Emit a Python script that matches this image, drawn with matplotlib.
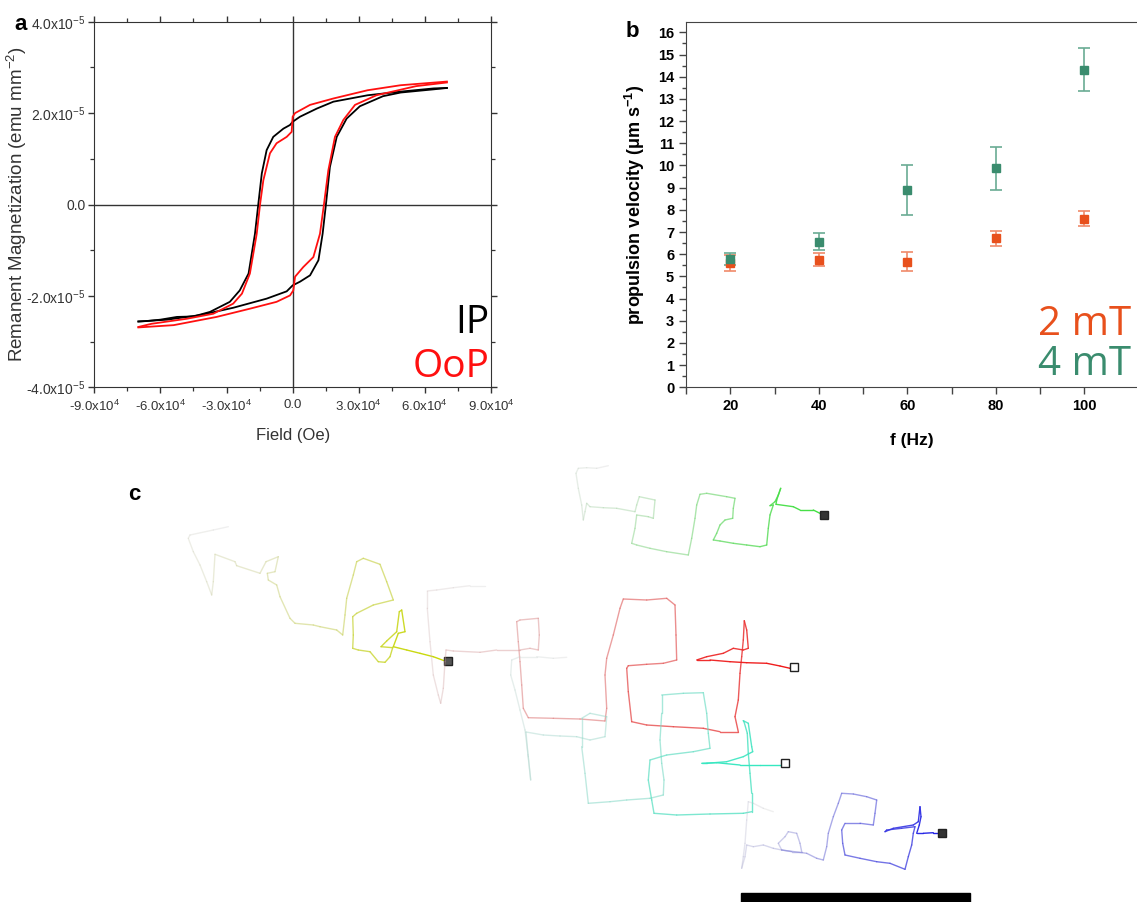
import numpy as np
import matplotlib
matplotlib.use("Agg")
import matplotlib.pyplot as plt
from matplotlib.collections import LineCollection
from matplotlib.patches import Rectangle
from matplotlib.ticker import MultipleLocator, FixedLocator, FuncFormatter
from matplotlib.colors import to_rgb

plt.rcParams['font.family'] = ['Liberation Sans', 'DejaVu Sans']
plt.rcParams['mathtext.fontset'] = 'custom'
plt.rcParams['mathtext.rm'] = 'Liberation Sans'
plt.rcParams['mathtext.bf'] = 'Liberation Sans:bold'

# ---------------- panel a: hysteresis loops (field in Oe, M in 1e-5 emu/mm2)
field_ip_dn = [70000, 64000, 49000, 34000, 18500, 11000, 3300, 0, -1200, -4200, -8800,
               -11800, -14000, -15600, -17100, -20000, -24000, -28500, -37500, -45000,
               -52500, -60000, -66000, -70000]
m_ip_dn = [2.55, 2.54, 2.47, 2.39, 2.25, 2.10, 1.92, 1.81, 1.74, 1.66, 1.48, 1.19, 0.68,
           0.0, -0.64, -1.51, -1.88, -2.13, -2.35, -2.45, -2.46, -2.52, -2.55, -2.56]
field_ip_up = [-70000, -57000, -42000, -27000, -11800, -2700, 0, 3300, 7900, 11700, 13600,
               15100, 16900, 20000, 24500, 30500, 41000, 49000, 64000, 70000]
m_ip_up = [-2.56, -2.52, -2.42, -2.26, -2.06, -1.90, -1.77, -1.69, -1.55, -1.22, -0.64,
           0.0, 0.82, 1.48, 1.88, 2.15, 2.37, 2.45, 2.52, 2.55]
field_oop_dn = [70000, 49000, 34000, 18500, 7900, 1100, 0, -450, -2700, -7300, -10300,
                -13300, -14800, -16300, -19400, -23000, -27000, -36000, -48000, -64000, -70000]
m_oop_dn = [2.69, 2.61, 2.50, 2.32, 2.18, 2.00, 1.92, 1.59, 1.48, 1.34, 1.12, 0.53, 0.0,
            -0.64, -1.51, -1.95, -2.17, -2.39, -2.50, -2.61, -2.68]
field_oop_up = [-70000, -54000, -34500, -19400, -7300, -1200, 300, 1100, 4800, 9400, 12400,
                14200, 16200, 19200, 23000, 28300, 38000, 56000, 70000]
m_oop_up = [-2.69, -2.64, -2.46, -2.28, -2.13, -1.99, -1.88, -1.58, -1.37, -1.15, -0.64,
            0.0, 0.75, 1.48, 1.85, 2.18, 2.39, 2.59, 2.67]

# ---------------- panel b: propulsion velocity
freq = [20, 40, 60, 80, 100]
v_2mT = [5.6, 5.75, 5.66, 6.72, 7.6]
err_2mT = [0.35, 0.3, 0.43, 0.33, 0.35]
v_4mT = [5.77, 6.56, 8.89, 9.87, 14.32]
err_4mT = [0.27, 0.39, 1.13, 0.96, 0.98]

# ---------------- panel c: trajectories (image pixel coordinates, start -> end)
track_yellow = [(228.3, 526.7), (213.3, 530), (190, 535), (188.3, 538.3), (193.3, 551.7),
    (200, 565), (206.7, 581.7), (211.7, 595), (213.3, 581.7), (215, 554.3), (235, 561.7),
    (236.7, 565.7), (260, 573.3), (266, 561.7), (278.3, 556.7), (275, 571.7), (267.3, 573.3),
    (268.3, 580), (276.7, 585), (280, 596.7), (290, 618.3), (295, 623.3), (313.3, 625),
    (320, 626.7), (336.7, 630), (342.7, 635), (345, 615), (346.7, 598.3), (353.3, 575),
    (356.7, 561.7), (363.3, 558.3), (380, 564.3), (386.7, 581.7), (393.3, 600), (373.3, 605),
    (356.7, 613.3), (352.7, 616.7), (353.3, 635), (352.7, 648.3), (358.3, 650), (370, 651.7),
    (378.3, 661.7), (385, 662.3), (390, 656.7), (392.7, 647.7), (381, 646.7), (386.7, 641),
    (396.7, 631.7), (399.3, 611.7), (401.7, 610), (405, 631.7), (398.3, 633.3), (393.3, 646.7),
    (406.7, 650), (420, 653.3), (433.3, 656.7), (445, 661), (448.3, 661)]
track_green = [(608.3, 465.7), (596.7, 468.3), (586.7, 467.7), (578.3, 468.3), (576, 473.3),
    (578.3, 488.3), (581.7, 505), (583.3, 520), (585, 511.7), (586.7, 503.3), (590, 506.7),
    (603.3, 507.7), (616.7, 508.3), (635, 511.7), (636.7, 505), (639.3, 496.7), (655, 500),
    (653.3, 518.3), (648.3, 516.7), (636.7, 515), (635, 528.3), (631.7, 543.3), (636.7, 545),
    (650, 548.3), (666.7, 551.7), (688.3, 555), (691.7, 538.3), (695, 518.3), (696.7, 505),
    (700, 494.3), (706.7, 493.3), (726.7, 496.7), (735, 498.3), (733.3, 508.3), (732.7, 518.3),
    (725, 520), (720, 525), (716.7, 533.3), (713.3, 540), (720, 541), (733.3, 543.3),
    (746.7, 545), (760, 546.7), (766.7, 545), (768.3, 528.3), (770, 515), (773.3, 505),
    (770, 505.7), (775, 501.7), (778.3, 495), (780.7, 488.3), (776.7, 500), (776, 504.3),
    (793.3, 506.7), (800, 510), (813.3, 510), (823.3, 515), (824, 515)]
track_red = [(485, 585.7), (470, 585.7), (453.3, 587.7), (436.7, 590), (427.3, 591),
    (427.3, 608.3), (430, 641.7), (433.3, 675), (438.3, 695), (440.7, 703.3), (443.3, 688.3),
    (445, 661.7), (446, 650), (453.3, 651), (480, 652.3), (496.7, 650), (520, 650),
    (530, 648.3), (538.3, 650), (539.3, 635), (538.3, 618.3), (520, 620), (516.7, 621.7),
    (518.3, 641.7), (520, 661.7), (521.7, 685), (523.3, 708.3), (528.3, 717.7), (553.3, 718.3),
    (580, 719), (605, 721), (606.7, 708.3), (605, 675), (606.7, 658.3), (613.3, 635),
    (620, 608.3), (623.3, 599), (646.7, 600), (666.7, 598.3), (675, 605), (676, 635),
    (676.7, 660), (663.3, 663.3), (646.7, 664.3), (628.3, 665.7), (626.7, 668.3),
    (628.3, 691.7), (631.7, 721.7), (646.7, 725), (673.3, 726.7), (703.3, 728.3), (720, 731.7),
    (738.3, 731.7), (735, 716.7), (738.3, 700), (740, 673.3), (741.7, 656.7), (743.3, 640),
    (744.3, 620.7), (746.7, 630), (748.3, 648.3), (743.3, 650), (733.3, 648.3), (723.3, 653.3),
    (706.7, 656.7), (696.7, 660), (710, 660), (730, 661.7), (746.7, 662.7), (766.7, 663.3),
    (780, 666), (790, 668.3), (794.3, 667.3)]
track_cyan = [(566.7, 657.3), (553.3, 658.3), (536.7, 656.7), (520, 656.7), (511.7, 660),
    (510.7, 675), (515, 690), (520, 710), (525, 730), (528.3, 756.7), (530.7, 780), (528, 755),
    (526, 732), (543.3, 735), (560, 736), (576.7, 736.7), (590, 740), (605, 736.7),
    (606.7, 716.7), (590, 713.3), (581.7, 718.3), (581.7, 746.7), (585, 773.3), (588.3, 803.3),
    (610, 801.7), (626.7, 800), (650, 798.3), (663.3, 795), (664, 780), (661.7, 763.3),
    (660, 740), (661.7, 713.3), (661.7, 695), (683.3, 693.3), (703.3, 692.7), (706.7, 713.3),
    (708.3, 733.3), (710, 748.3), (693.3, 751.7), (666.7, 755), (650, 760), (648.3, 780),
    (651.7, 800), (654, 813.3), (676.7, 815), (710, 814), (743.3, 813.3), (751.7, 811.7),
    (751.7, 793.3), (750, 773.3), (748.3, 753.3), (747.3, 733.3), (744, 721.7), (743.3, 720.7),
    (748.3, 723.3), (751.7, 746.7), (752.7, 751.7), (743.3, 756.7), (726.7, 761.7),
    (706.7, 763.3), (701.7, 763.3), (716.7, 762.7), (740, 765), (760, 765), (781.7, 765),
    (785, 763.3)]
track_blue = [(773.3, 811.7), (763.3, 808.3), (753.3, 803.3), (748.3, 801.7), (746.7, 820),
    (745, 843.3), (743.3, 856.7), (741.7, 868.3), (745, 856.7), (746.7, 845), (753.3, 846.7),
    (763.3, 845), (773.3, 848.3), (781.7, 850), (778.3, 843.3), (785, 836.7), (788.3, 831.7),
    (796.7, 833.3), (800, 843.3), (801.7, 851.7), (791.7, 851.7), (781.7, 850), (806.7, 853.3),
    (816.7, 858.3), (823.3, 860), (826.7, 846.7), (828.3, 833.3), (833.3, 816.7),
    (838.3, 803.3), (841.7, 793.3), (853.3, 794), (866.7, 796.7), (876.7, 800), (875, 813.3),
    (873.3, 825), (860, 823.3), (845, 823.3), (841.7, 830), (842.7, 843.3), (845, 855),
    (860, 858.3), (876.7, 861.7), (890, 863.3), (905, 869.3), (908.3, 856.7), (911.7, 845),
    (913.3, 833.3), (915, 826.7), (901.7, 828.3), (886.7, 830), (885, 831.7), (893.3, 828.3),
    (913.3, 825), (918.3, 821.7), (920, 806.7), (921, 816.7), (919.3, 825), (916.7, 833.3),
    (923.3, 833.3), (933.3, 832.7), (940, 832.7), (941.7, 832.7)]
tracks = [
    (track_yellow, '#c8d800', '#555555'),
    (track_green, '#3ee03e', '#333333'),
    (track_red, '#f01414', 'white'),
    (track_cyan, '#30e8c0', 'white'),
    (track_blue, '#1e1ee6', '#333333'),
]
scale_bar_x = (741, 970)
scale_bar_y = (893, 903)

orange = '#e8501c'
green = '#3a8c6e'
W, H = 1137, 902

fig = plt.figure(figsize=(W / 100, H / 100), dpi=100)

# ---------------- panel c
axc = fig.add_axes([0, 0, 1, 1])
axc.set_xlim(0, W)
axc.set_ylim(H, 0)
axc.axis('off')
faint = np.array(to_rgb('#cccccc'))
for pts, col, face in tracks:
    xy = np.array(pts)
    segs = np.stack([xy[:-1], xy[1:]], axis=1)
    t = np.linspace(0, 1, len(segs))
    rgb = faint[None, :] * (1 - t[:, None] ** 0.8) + np.array(to_rgb(col))[None, :] * t[:, None] ** 0.8
    alpha = 0.3 + 0.7 * t
    colors = np.column_stack([rgb, alpha])
    axc.add_collection(LineCollection(segs, colors=colors, linewidths=1.0, capstyle='round'))
    axc.plot(xy[-1, 0], xy[-1, 1], 's', ms=5.5, mfc=face, mec='#222222', mew=1.0)
axc.add_patch(Rectangle((scale_bar_x[0], scale_bar_y[0]), scale_bar_x[1] - scale_bar_x[0],
                        scale_bar_y[1] - scale_bar_y[0], color='black'))
fig.text(128 / W, 1 - 500 / H, 'c', fontsize=16, fontweight='bold')

# ---------------- panel a
axa = fig.add_axes([94.3 / W, 1 - 387.3 / H, 396.7 / W, 365.6 / H])
axa.plot(field_ip_dn, np.array(m_ip_dn) * 1e-5, color='black', lw=1.3)
axa.plot(field_ip_up, np.array(m_ip_up) * 1e-5, color='black', lw=1.3)
axa.plot(field_oop_dn, np.array(m_oop_dn) * 1e-5, color='#ff1010', lw=1.3)
axa.plot(field_oop_up, np.array(m_oop_up) * 1e-5, color='#ff1010', lw=1.3)
axa.axhline(0, color='#333333', lw=1.0, zorder=0)
axa.axvline(0, color='#333333', lw=1.0, zorder=0)
axa.set_xlim(-9e4, 9e4)
axa.set_ylim(-4e-5, 4e-5)
axa.xaxis.set_major_locator(MultipleLocator(3e4))
axa.xaxis.set_minor_locator(MultipleLocator(1.5e4))
axa.yaxis.set_major_locator(MultipleLocator(2e-5))
axa.yaxis.set_minor_locator(MultipleLocator(1e-5))


def sci_fmt(exp):
    def f(v, pos):
        if abs(v) < 1e-30:
            return '0.0'
        return r'%.1fx10$^{\mathrm{%d}}$' % (v / 10 ** exp, exp)
    return FuncFormatter(f)


axa.xaxis.set_major_formatter(sci_fmt(4))
axa.yaxis.set_major_formatter(sci_fmt(-5))
axa.tick_params(which='both', direction='out', top=True, right=True,
                labelcolor='#333333', color='#333333')
axa.tick_params(axis='x', labelsize=9.5, pad=4)
axa.tick_params(axis='y', labelsize=10, pad=2)
axa.tick_params(which='major', length=4.5, width=1.0)
axa.tick_params(which='minor', length=3, width=0.9)
for s in axa.spines.values():
    s.set_color('#333333')
axa.set_xlabel('Field (Oe)', fontsize=12, color='#333333', labelpad=10)
axa.set_ylabel(r'Remanent Magnetization (emu mm$^{-2}$)', fontsize=13.5, color='#333333')
axa.yaxis.set_label_coords(-0.165, 0.5)
axa.text(0.995, 0.1485, 'IP', transform=axa.transAxes, ha='right', va='baseline',
         fontsize=28, family='Open Sans', color='black')
axa.text(0.995, 0.029, 'OoP', transform=axa.transAxes, ha='right', va='baseline',
         fontsize=28, family='Open Sans', color='#ff1010')
fig.text(14 / W, 1 - 30 / H, 'a', fontsize=16, fontweight='bold')

# ---------------- panel b
axb = fig.add_axes([686 / W, 1 - 387.3 / H, 451.5 / W, 365.6 / H])
axb.errorbar(freq, v_2mT, yerr=err_2mT, fmt='s', color=orange, ms=5.5, ecolor='#f08a6a',
             elinewidth=1.2, capsize=4, capthick=1.2)
axb.errorbar(freq, v_4mT, yerr=err_4mT, fmt='s', color=green, ms=5.5, ecolor='#6aab93',
             elinewidth=1.2, capsize=4, capthick=1.2)
axb.set_xlim(10, 112)
axb.set_ylim(0, 16.48)
axb.xaxis.set_major_locator(FixedLocator([20, 40, 60, 80, 100]))
axb.xaxis.set_minor_locator(FixedLocator([10, 30, 50, 70, 90]))
axb.yaxis.set_major_locator(MultipleLocator(1))
axb.yaxis.set_minor_locator(MultipleLocator(0.5))
axb.spines['right'].set_visible(False)
for s in axb.spines.values():
    s.set_color('#444444')
axb.tick_params(which='both', direction='out', color='#444444')
axb.tick_params(which='major', length=5, width=1.0, labelsize=10.5)
axb.tick_params(which='minor', length=5, width=1.0)
axb.tick_params(axis='y', which='minor', length=3)
for lab in axb.get_xticklabels() + axb.get_yticklabels():
    lab.set_fontweight('bold')
axb.set_xlabel('f (Hz)', fontsize=12.5, fontweight='bold', labelpad=14)
axb.set_ylabel(r'propulsion velocity ($\mathbf{\mu}$m s$^{\mathbf{-1}}$)', fontsize=13,
               fontweight='bold', labelpad=8)
fig.text(1038 / W, 1 - 335 / H, '2 mT', fontsize=29, family='Open Sans', color=orange,
         va='baseline')
fig.text(1038 / W, 1 - 375 / H, '4 mT', fontsize=29, family='Open Sans', color=green,
         va='baseline')
fig.text(626 / W, 1 - 37 / H, 'b', fontsize=16, fontweight='bold')

fig.savefig('out.png', dpi=100)
